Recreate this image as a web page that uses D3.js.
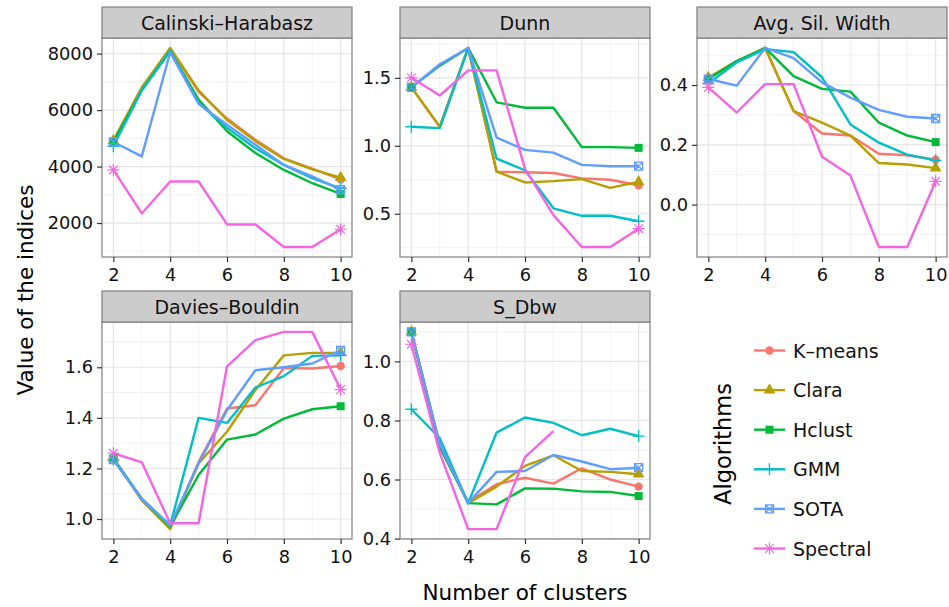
<!DOCTYPE html>
<html>
<head>
<meta charset="utf-8">
<script src="https://cdn.jsdelivr.net/npm/d3@7.9.0/dist/d3.min.js"></script>
<style>
  body { margin: 0; background: #fff; }
  svg { font-family: "DejaVu Sans", sans-serif; }
</style>
</head>
<body>
<svg id="chart" width="949" height="607"></svg>
<script>
const clusters = [2, 3, 4, 5, 6, 7, 8, 9, 10];
const xTicks = [2, 4, 6, 8, 10];
const algorithms = ['K\u2013means', 'Clara', 'Hclust', 'GMM', 'SOTA', 'Spectral'];
const indexNames = ['Calinski\u2013Harabasz', 'Dunn', 'Avg. Sil. Width', 'Davies\u2013Bouldin', 'S_Dbw'];

// one row per algorithm, in the order of `algorithms`
const calinski = [
  [4900, 6790, 8180, 6650, 5700, 4950, 4290, 3930, 3550],
  [4920, 6800, 8200, 6700, 5650, 4900, 4270, 3900, 3610],
  [4870, 6700, 8100, 6370, 5250, 4480, 3880, 3410, 3030],
  [4720, 6700, 8100, 6250, 5370, 4650, 4060, 3590, 3230],
  [4870, 4360, 8050, 6220, 5480, 4770, 4060, 3650, 3180],
  [3880, 2340, 3470, 3470, 1950, 1950, 1150, 1150, 1780]
];
const dunn = [
  [1.43, 1.14, 1.72, 0.81, 0.805, 0.80, 0.76, 0.75, 0.71],
  [1.43, 1.14, 1.72, 0.81, 0.73, 0.74, 0.755, 0.69, 0.735],
  [1.43, 1.59, 1.72, 1.32, 1.28, 1.28, 0.99, 0.99, 0.985],
  [1.14, 1.13, 1.72, 0.905, 0.82, 0.54, 0.485, 0.485, 0.445],
  [1.43, 1.60, 1.72, 1.06, 0.97, 0.95, 0.86, 0.85, 0.85],
  [1.50, 1.37, 1.555, 1.555, 0.83, 0.49, 0.255, 0.255, 0.39]
];
const silhouette = [
  [0.42, 0.48, 0.524, 0.313, 0.238, 0.231, 0.17, 0.165, 0.15],
  [0.425, 0.48, 0.524, 0.313, 0.274, 0.231, 0.139, 0.134, 0.122],
  [0.42, 0.48, 0.524, 0.43, 0.387, 0.378, 0.274, 0.231, 0.209],
  [0.405, 0.476, 0.52, 0.51, 0.426, 0.268, 0.207, 0.167, 0.148],
  [0.42, 0.398, 0.524, 0.49, 0.409, 0.358, 0.317, 0.294, 0.288],
  [0.392, 0.308, 0.403, 0.403, 0.16, 0.097, -0.142, -0.142, 0.078]
];
const daviesBouldin = [
  [1.24, 1.075, 0.963, 1.226, 1.437, 1.45, 1.597, 1.595, 1.605],
  [1.24, 1.075, 0.96, 1.22, 1.345, 1.51, 1.647, 1.657, 1.657],
  [1.24, 1.08, 0.97, 1.174, 1.314, 1.334, 1.397, 1.434, 1.446],
  [1.235, 1.08, 0.975, 1.40, 1.38, 1.52, 1.565, 1.645, 1.647],
  [1.235, 1.08, 0.975, 1.22, 1.43, 1.588, 1.60, 1.615, 1.667],
  [1.26, 1.224, 0.983, 0.983, 1.604, 1.707, 1.74, 1.74, 1.512]
];
const sDbw = [
  [1.10, 0.71, 0.524, 0.584, 0.606, 0.586, 0.638, 0.60, 0.576],
  [1.10, 0.72, 0.52, 0.576, 0.646, 0.682, 0.629, 0.626, 0.618],
  [1.10, 0.71, 0.52, 0.516, 0.57, 0.569, 0.56, 0.558, 0.544],
  [0.838, 0.74, 0.52, 0.759, 0.81, 0.792, 0.75, 0.772, 0.747],
  [1.10, 0.72, 0.52, 0.626, 0.629, 0.683, 0.661, 0.635, 0.64],
  [1.058, 0.69, 0.432, 0.432, 0.676, 0.764, null, null, null]
];

const yTicks = [
  [2000, 4000, 6000, 8000],
  [0.5, 1.0, 1.5],
  [0.0, 0.2, 0.4],
  [1.0, 1.2, 1.4, 1.6],
  [0.4, 0.6, 0.8, 1.0]
];
const yFormats = [d3.format('d'), d3.format('.1f'), d3.format('.1f'), d3.format('.1f'), d3.format('.1f')];
const panelData = [calinski, dunn, silhouette, daviesBouldin, sDbw];

const color = d3.scaleOrdinal()
  .domain(algorithms)
  .range(['#F8766D', '#B79F00', '#00BA38', '#00BFC4', '#619CFF', '#F564E3']);

const svg = d3.select('#chart');

// panel layout
const colLeft = [102, 400, 697];
const panelW = 250;
const stripTop = [7, 291];
const stripH = 31;
const plotBottom = [257, 539];

// point shapes (ggplot 16, 17, 15, 3, 7, 8)
function drawShape(g, i, x, y, c) {
  const p = g.append('g').attr('transform', `translate(${x},${y})`);
  if (i === 0) {
    p.append('path').attr('d', d3.symbol(d3.symbolCircle, 55)()).attr('fill', c);
  } else if (i === 1) {
    p.append('path').attr('d', d3.symbol(d3.symbolTriangle, 60)()).attr('fill', c);
  } else if (i === 2) {
    p.append('path').attr('d', d3.symbol(d3.symbolSquare, 64)()).attr('fill', c);
  } else if (i === 3) {
    p.append('path').attr('d', 'M-6,0H6M0,-6V6').attr('stroke', c).attr('stroke-width', 1.4);
  } else if (i === 4) {
    p.append('path').attr('d', 'M-4,-4H4V4H-4ZM-4,-4L4,4M-4,4L4,-4')
      .attr('stroke', c).attr('stroke-width', 1.3).attr('fill', 'none');
  } else {
    p.append('path').attr('d', 'M-6,0H6M0,-6V6M-4.3,-4.3L4.3,4.3M-4.3,4.3L4.3,-4.3')
      .attr('stroke', c).attr('stroke-width', 1.2);
  }
}

const line = d3.line()
  .defined(d => d[1] != null);

panelData.forEach((series, k) => {
  const row = k < 3 ? 0 : 1;
  const col = k % 3;
  const left = colLeft[col];
  const top = stripTop[row] + stripH;
  const bottom = plotBottom[row];

  const xs = d3.scaleLinear().domain([1.6, 10.4]).range([left, left + panelW]);
  const ext = d3.extent(series.flat().filter(v => v != null));
  const pad = (ext[1] - ext[0]) * 0.05;
  const ys = d3.scaleLinear().domain([ext[0] - pad, ext[1] + pad]).range([bottom, top]);

  const g = svg.append('g');

  // background + grid
  g.append('rect').attr('x', left).attr('y', top).attr('width', panelW).attr('height', bottom - top)
    .attr('fill', '#fff');
  const ticks = yTicks[k];
  const step = ticks[1] - ticks[0];
  const yMinor = [ticks[0] - step / 2, ...ticks.map(t => t + step / 2)]
    .filter(v => v > ys.domain()[0] && v < ys.domain()[1]);
  const xMinor = [3, 5, 7, 9];
  g.selectAll('.ymin').data(yMinor).join('line')
    .attr('x1', left).attr('x2', left + panelW)
    .attr('y1', d => ys(d)).attr('y2', d => ys(d))
    .attr('stroke', '#f2f2f2').attr('stroke-width', 1);
  g.selectAll('.xmin').data(xMinor).join('line')
    .attr('x1', d => xs(d)).attr('x2', d => xs(d))
    .attr('y1', top).attr('y2', bottom)
    .attr('stroke', '#f2f2f2').attr('stroke-width', 1);
  g.selectAll('.ymaj').data(ticks).join('line')
    .attr('x1', left).attr('x2', left + panelW)
    .attr('y1', d => ys(d)).attr('y2', d => ys(d))
    .attr('stroke', '#e5e5e5').attr('stroke-width', 1.2);
  g.selectAll('.xmaj').data(xTicks).join('line')
    .attr('x1', d => xs(d)).attr('x2', d => xs(d))
    .attr('y1', top).attr('y2', bottom)
    .attr('stroke', '#e5e5e5').attr('stroke-width', 1.2);

  // lines
  series.forEach((vals, i) => {
    const pts = clusters.map((c, j) => [xs(c), vals[j] == null ? null : ys(vals[j])]);
    g.append('path').attr('d', line(pts))
      .attr('fill', 'none').attr('stroke', color(algorithms[i]))
      .attr('stroke-width', 2.4).attr('stroke-linejoin', 'round');
  });
  // points at the ends
  series.forEach((vals, i) => {
    [0, clusters.length - 1].forEach(j => {
      if (vals[j] != null) drawShape(g, i, xs(clusters[j]), ys(vals[j]), color(algorithms[i]));
    });
  });

  // border
  g.append('rect').attr('x', left).attr('y', top).attr('width', panelW).attr('height', bottom - top)
    .attr('fill', 'none').attr('stroke', '#7f7f7f').attr('stroke-width', 1.2);

  // strip
  g.append('rect').attr('x', left).attr('y', stripTop[row]).attr('width', panelW).attr('height', stripH)
    .attr('fill', '#cccccc').attr('stroke', '#7f7f7f').attr('stroke-width', 1.2);
  g.append('text').attr('x', left + panelW / 2).attr('y', stripTop[row] + stripH / 2 + 7)
    .attr('text-anchor', 'middle').attr('font-size', 19).attr('fill', '#111')
    .text(indexNames[k]);

  // axes
  const yAxis = d3.axisLeft(ys).tickValues(ticks).tickFormat(yFormats[k]).tickSize(5).tickPadding(4);
  const ya = g.append('g').attr('transform', `translate(${left},0)`).call(yAxis);
  const xAxis = d3.axisBottom(xs).tickValues(xTicks).tickSize(5).tickPadding(6);
  const xa = g.append('g').attr('transform', `translate(0,${bottom})`).call(xAxis);
  [ya, xa].forEach(a => {
    a.select('.domain').remove();
    a.selectAll('.tick line').attr('stroke', '#333').attr('stroke-width', 1.2);
    a.selectAll('.tick text').attr('font-size', 17.8).attr('fill', '#111')
      .attr('font-family', '"DejaVu Sans", sans-serif');
  });
});

// axis titles
svg.append('text').attr('x', 525).attr('y', 600).attr('text-anchor', 'middle')
  .attr('font-size', 21.5).attr('fill', '#000').text('Number of clusters');
svg.append('text').attr('transform', 'translate(33,290) rotate(-90)').attr('text-anchor', 'middle')
  .attr('font-size', 21.5).attr('fill', '#000').text('Value of the indices');

// legend
svg.append('text').attr('transform', 'translate(731,444) rotate(-90)').attr('text-anchor', 'middle')
  .attr('font-size', 22.5).attr('fill', '#000').text('Algorithms');
const legend = svg.append('g');
algorithms.forEach((a, i) => {
  const y = 350.5 + i * 39.6;
  legend.append('line').attr('x1', 754).attr('x2', 785).attr('y1', y).attr('y2', y)
    .attr('stroke', color(a)).attr('stroke-width', 2.4);
  drawShape(legend, i, 769.5, y, color(a));
  legend.append('text').attr('x', 793).attr('y', y + 7)
    .attr('font-size', 19).attr('fill', '#111').text(a);
});
</script>
</body>
</html>
